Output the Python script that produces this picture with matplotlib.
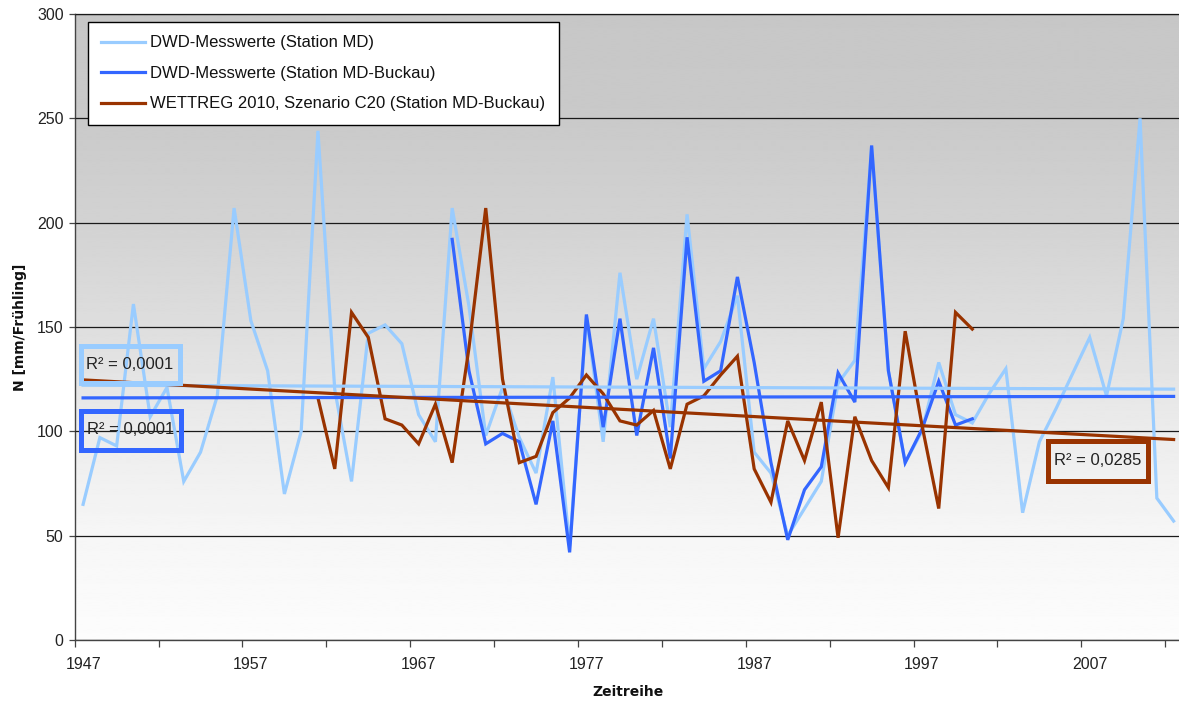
import numpy as np
import matplotlib
matplotlib.use("Agg")
import matplotlib.pyplot as plt
from matplotlib.ticker import FixedLocator
from matplotlib.patches import Rectangle

plt.rcParams["font.family"] = ["Liberation Sans", "DejaVu Sans"]

# Spring precipitation N [mm] per year
years_md = np.arange(1947, 2013)
station_md = [65, 97, 93, 161, 107, 121, 76, 90, 117, 207,
              153, 129, 70, 100, 244, 120, 76, 147, 151, 142,
              108, 95, 207, 160, 98, 121, 97, 80, 126, 45,
              155, 95, 176, 125, 154, 102, 204, 130, 143, 165,
              90, 80, 50, 63, 76, 123, 134, 236, 129, 85,
              100, 133, 108, 104, 118, 130, 61, 95, 111, 128,
              145, 117, 154, 250, 68, 57]

years_buckau = np.arange(1969, 2001)
station_buckau = [192, 129, 94, 99, 95, 65, 105, 42, 156, 102,
                  154, 98, 140, 87, 193, 124, 129, 174, 133, 85,
                  48, 72, 83, 128, 114, 237, 129, 85, 101, 124,
                  103, 106]

years_wettreg = np.arange(1961, 2001)
wettreg_c20 = [116, 82, 157, 145, 106, 103, 94, 113, 85, 140,
               207, 125, 85, 88, 109, 116, 127, 118, 105, 103,
               110, 82, 113, 117, 127, 136, 82, 66, 105, 86,
               114, 49, 107, 86, 73, 148, 103, 63, 157, 149]

labels = ["DWD-Messwerte (Station MD)",
          "DWD-Messwerte (Station MD-Buckau)",
          "WETTREG 2010, Szenario C20 (Station MD-Buckau)"]
r2_texts = ["R² = 0,0001", "R² = 0,0001", "R² = 0,0285"]
colors = ["#99ccff", "#3366ff", "#993300"]

x_tick_labels = [1947, 1957, 1967, 1977, 1987, 1997, 2007]

W, H = 1179, 705
fig = plt.figure(figsize=(W / 100, H / 100), dpi=100)
ax_left, ax_right, ax_top, ax_bottom = 74.7, 1182, 14, 640
ax_w, ax_h = ax_right - ax_left, ax_bottom - ax_top
ax = fig.add_axes([ax_left / W, (H - ax_bottom) / H, ax_w / W, ax_h / H])


def px_to_axes(px, py):
    """Figure pixel position (from top-left) to axes fraction."""
    return (px - ax_left) / ax_w, (ax_bottom - py) / ax_h


x0, x1 = 1946.5, 2012.5
ax.set_xlim(x0, x1)
ax.set_ylim(0, 300)

# grey-to-white plot area fill
gy = np.linspace(0, 300, 601)
shade = np.interp(gy, [0, 50, 100, 150, 200, 250, 300],
                  [0.99, 0.965, 0.925, 0.87, 0.825, 0.79, 0.78])
ax.imshow(shade[::-1, None], extent=(x0, x1, 0, 300), aspect="auto",
          cmap="gray", vmin=0, vmax=1, zorder=0, interpolation="bilinear")

ax.yaxis.grid(True, color="#1a1a1a", lw=0.9)
ax.set_axisbelow(False)
for gl in ax.get_ygridlines():
    gl.set_zorder(1)

series = [(years_md, station_md), (years_buckau, station_buckau),
          (years_wettreg, wettreg_c20)]
handles = []
for (xs, ys), c, lab, z in zip(series, colors, labels, [3, 4, 5]):
    h, = ax.plot(xs, ys, color=c, lw=2.3, zorder=z, label=lab,
                 solid_joinstyle="miter")
    handles.append(h)

# linear trend lines over the full period
xt = np.array([1947, 2012])
for (xs, ys), c in zip(series, colors):
    coef = np.polyfit(xs, ys, 1)
    ax.plot(xt, np.polyval(coef, xt), color=c, lw=2.3, zorder=6)

# R² boxes (pixel frames: left, top, right, bottom)
box_frames = [(80.5, 345.5, 179.5, 382.5),
              (80.5, 410.5, 180.5, 449.5),
              (1047.5, 440.5, 1147.5, 480.5)]
for txt, c, (l, t, r, b) in zip(r2_texts, colors, box_frames):
    ax_l, ax_b = px_to_axes(l, b)
    ax_r, ax_t = px_to_axes(r, t)
    ax.add_patch(Rectangle((ax_l, ax_b), ax_r - ax_l, ax_t - ax_b,
                           transform=ax.transAxes, facecolor="none",
                           edgecolor=c, linewidth=3.6, zorder=8,
                           joinstyle="miter"))
    ax.text((ax_l + ax_r) / 2, (ax_b + ax_t) / 2, txt,
            transform=ax.transAxes, ha="center", va="center",
            fontsize=12, color="#222222", zorder=9)

# axes styling
ax.spines["right"].set_visible(False)
ax.spines["top"].set_color("#1a1a1a")
ax.spines["top"].set_linewidth(0.9)
for s in ["left", "bottom"]:
    ax.spines[s].set_color("#444444")
    ax.spines[s].set_linewidth(1.0)

ax.set_yticks(np.arange(0, 301, 50))
ax.tick_params(axis="y", direction="out", length=4, width=0.9,
               color="#444444", labelsize=11.5, labelcolor="#222222", pad=4)
ax.xaxis.set_major_locator(FixedLocator(x_tick_labels))
ax.set_xticklabels([str(v) for v in x_tick_labels])
ax.xaxis.set_minor_locator(FixedLocator(np.arange(x0, x1 + 0.01, 5)))
ax.tick_params(axis="x", which="major", length=0, labelsize=11.5,
               labelcolor="#222222", pad=12)
ax.tick_params(axis="x", which="minor", direction="out", length=5,
               width=0.9, color="#444444")

ax.set_ylabel("N [mm/Frühling]", fontsize=10, fontweight="bold",
              family="DejaVu Sans", color="#111111")
ax.yaxis.set_label_coords((27 - ax_left) / ax_w, 0.5)
ax.set_xlabel("Zeitreihe", fontsize=10, fontweight="bold",
              family="DejaVu Sans", color="#111111")
ax.xaxis.set_label_coords(0.5, (ax_bottom - 685) / ax_h)

leg = ax.legend(handles=handles, loc="upper left",
                bbox_to_anchor=(88 / W, 1 - 22 / H),
                bbox_transform=fig.transFigure, frameon=True, fancybox=False,
                edgecolor="black", facecolor="white", framealpha=1,
                fontsize=12, handlelength=2.6, handletextpad=0.35,
                labelspacing=0.93, borderpad=0.8, borderaxespad=0)
leg.get_frame().set_linewidth(1.0)
leg.set_zorder(10)
for t in leg.get_texts():
    t.set_color("#111111")

fig.savefig("out.png", dpi=100)
